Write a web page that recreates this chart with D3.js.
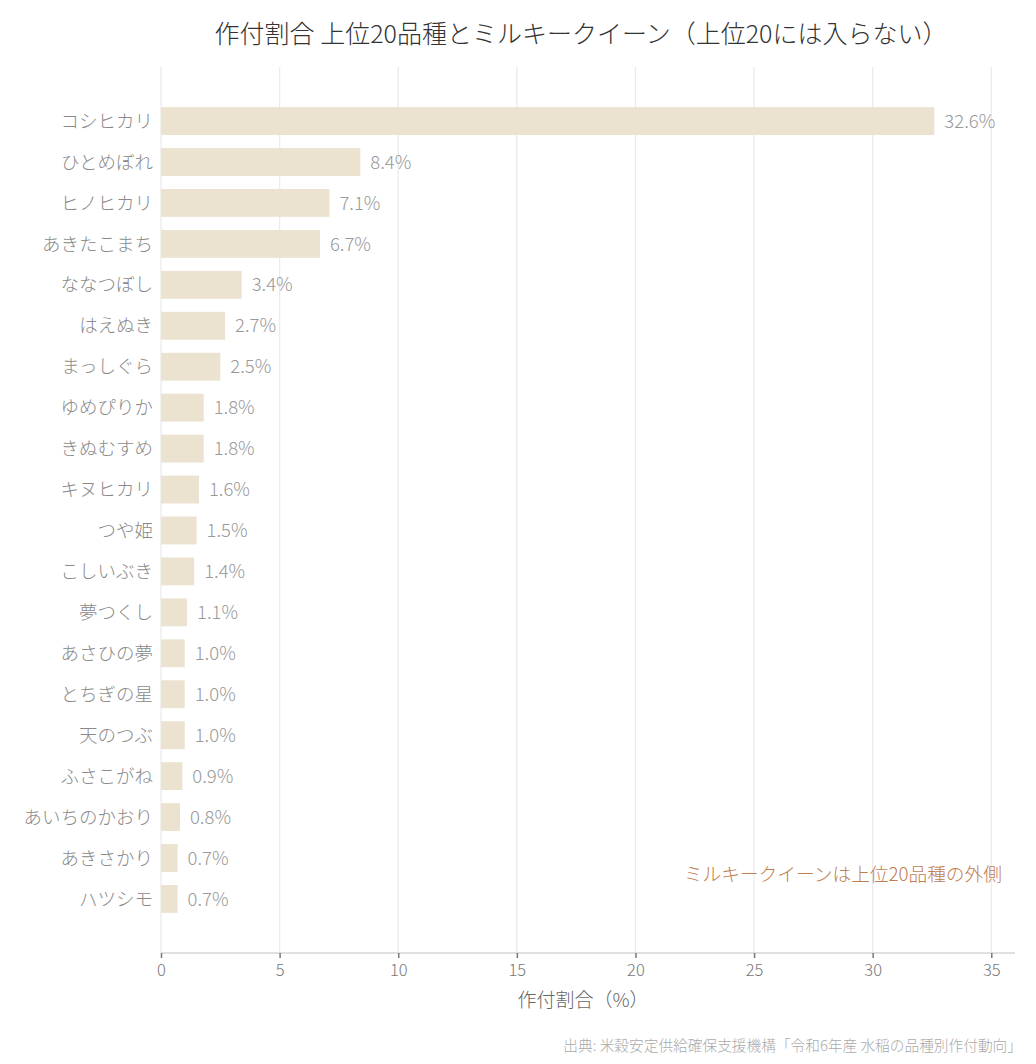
<!DOCTYPE html>
<html>
<head>
<meta charset="utf-8">
<script src="https://cdn.jsdelivr.net/npm/d3@7"></script>
<style>
  body { margin: 0; background: #fff; }
  text { font-family: "Noto Sans CJK JP", "Noto Sans", sans-serif; font-weight: 300; }
</style>
</head>
<body>
<div id="chart"></div>
<script>
// 品種と作付割合（%）
var varieties = ["コシヒカリ", "ひとめぼれ", "ヒノヒカリ", "あきたこまち", "ななつぼし",
  "はえぬき", "まっしぐら", "ゆめぴりか", "きぬむすめ", "キヌヒカリ",
  "つや姫", "こしいぶき", "夢つくし", "あさひの夢", "とちぎの星",
  "天のつぶ", "ふさこがね", "あいちのかおり", "あきさかり", "ハツシモ"];
var shares = [32.6, 8.4, 7.1, 6.7, 3.4, 2.7, 2.5, 1.8, 1.8, 1.6,
  1.5, 1.4, 1.1, 1.0, 1.0, 1.0, 0.9, 0.8, 0.7, 0.7];
var xTicks = [0, 5, 10, 15, 20, 25, 30, 35];

var data = varieties.map(function(v, i) { return {name: v, value: shares[i]}; });

var W = 1036, H = 1064;
var margin = {top: 67, right: 21, bottom: 111, left: 161};
var width = W - margin.left - margin.right,
    height = H - margin.top - margin.bottom;

var svg = d3.select("#chart").append("svg")
  .attr("width", W).attr("height", H);

var g = svg.append("g")
  .attr("transform", "translate(" + margin.left + "," + margin.top + ")");

var x = d3.scaleLinear().domain([0, 36]).range([0, width]);
var y = d3.scaleBand().domain(varieties).range([0, height])
  .paddingInner(0.32).paddingOuter(0.98);

// grid
g.selectAll(".grid").data(xTicks).enter().append("line")
  .attr("x1", function(d){ return x(d); })
  .attr("x2", function(d){ return x(d); })
  .attr("y1", 0).attr("y2", height)
  .attr("stroke", "#ebebeb").attr("stroke-width", 1.3);

// bars
g.selectAll(".bar").data(data).enter().append("rect")
  .attr("class", "bar")
  .attr("x", x(0))
  .attr("y", function(d){ return y(d.name); })
  .attr("width", function(d){ return x(d.value) - x(0); })
  .attr("height", y.bandwidth())
  .attr("fill", "#ebe2cf");

// value labels
g.selectAll(".val").data(data).enter().append("text")
  .attr("x", function(d){ return x(d.value) + 10; })
  .attr("y", function(d){ return y(d.name) + y.bandwidth() / 2; })
  .attr("dy", "0.36em")
  .attr("fill", "#999")
  .style("font-size", "18.5px")
  .text(function(d){ return d.value.toFixed(1) + "%"; });

// y labels
g.selectAll(".ylab").data(data).enter().append("text")
  .attr("x", -8)
  .attr("y", function(d){ return y(d.name) + y.bandwidth() / 2; })
  .attr("dy", "0.36em")
  .attr("text-anchor", "end")
  .attr("fill", "#8a8a8a")
  .style("font-size", "18.5px")
  .text(function(d){ return d.name; });

// x axis
var xAxis = d3.axisBottom(x).tickValues(xTicks).tickSize(5).tickPadding(6);
var ax = g.append("g")
  .attr("transform", "translate(0," + height + ")")
  .call(xAxis);
ax.select(".domain").attr("stroke", "#e0e0e0").attr("stroke-width", 2)
  .attr("d", "M0,0H" + width);
ax.selectAll(".tick line").attr("stroke", "#777").attr("stroke-width", 1.5);
ax.selectAll(".tick text").attr("fill", "#777").style("font-size", "16.5px")
  .style("font-family", "'Noto Sans CJK JP', sans-serif").style("font-weight", 300);

// axis title
g.append("text")
  .attr("x", width / 2 - 5).attr("y", height + 54)
  .attr("text-anchor", "middle")
  .attr("fill", "#666")
  .style("font-size", "19px")
  .text("作付割合（%）");

// annotation
g.append("text")
  .attr("x", x(35.45))
  .attr("y", y("ハツシモ") - 4)
  .attr("text-anchor", "end")
  .attr("fill", "#bf7d50")
  .style("font-size", "18.7px")
  .text("ミルキークイーンは上位20品種の外側");

// title
svg.append("text")
  .attr("x", 581).attr("y", 43)
  .attr("text-anchor", "middle")
  .attr("fill", "#333")
  .style("font-size", "25px")
  .text("作付割合 上位20品種とミルキークイーン（上位20には入らない）");

// source
svg.append("text")
  .attr("x", 1022).attr("y", 1051)
  .attr("text-anchor", "end")
  .attr("fill", "#aaa")
  .style("font-size", "14.7px")
  .text("出典: 米穀安定供給確保支援機構「令和6年産 水稲の品種別作付動向」");
</script>
</body>
</html>
